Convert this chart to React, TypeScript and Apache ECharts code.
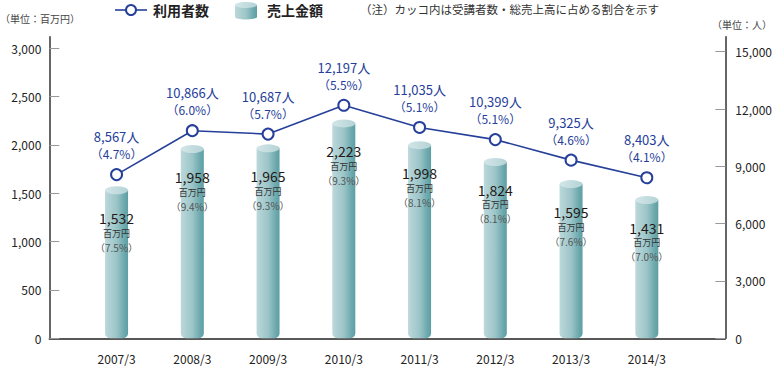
import React, { useEffect, useRef } from "react";
import * as echarts from "echarts";

const categories = ["2007/3", "2008/3", "2009/3", "2010/3", "2011/3", "2012/3", "2013/3", "2014/3"];
const sales = [1532, 1958, 1965, 2223, 1998, 1824, 1595, 1431];
const salesPct = ["7.5", "9.4", "9.3", "9.3", "8.1", "8.1", "7.6", "7.0"];
const users = [8567, 10866, 10687, 12197, 11035, 10399, 9325, 8403];
const usersPct = ["4.7", "6.0", "5.7", "5.5", "5.1", "5.1", "4.6", "4.1"];
const leftTicks = [0, 500, 1000, 1500, 2000, 2500, 3000];
const rightTicks = [0, 3000, 6000, 9000, 12000, 15000];

const FONT = "'Noto Sans CJK JP', 'Noto Sans', sans-serif";
const BLUE = "#26409a";
const fmt = (v: number) => v.toLocaleString("en-US");

export default function App() {
  const ref = useRef<HTMLDivElement>(null);
  useEffect(() => {
    document.body.style.margin = "0";
    if (!ref.current) return;
    const chart = echarts.init(ref.current, null, { renderer: "svg" });
    const barGrad = new echarts.graphic.LinearGradient(0, 0, 1, 0, [
      { offset: 0, color: "#bcd8db" },
      { offset: 0.5, color: "#9cc5c8" },
      { offset: 0.85, color: "#6aa8ad" },
      { offset: 1, color: "#5e9ea3" },
    ]);
    const topGrad = new echarts.graphic.LinearGradient(0, 0, 1, 0, [
      { offset: 0, color: "#d3e6e8" },
      { offset: 1, color: "#b4d3d6" },
    ]);
    const idx = categories.map((_, i) => i);
    chart.setOption({
      animation: false,
      textStyle: { fontFamily: FONT },
      grid: { left: 49.3, right: 48.3, top: 36.7, bottom: 33.7, containLabel: false },
      xAxis: {
        type: "value",
        min: -0.888,
        max: 8.037,
        splitLine: { show: false },
        axisTick: { show: false },
        axisLine: { show: true, onZero: false, lineStyle: { color: "#222", width: 1.5 } },
        axisLabel: {
          customValues: idx,
          formatter: (v: number) => categories[Math.round(v)] ?? "",
          margin: 14,
          fontSize: 12,
          color: "#222",
          fontFamily: FONT,
        },
      },
      yAxis: [
        {
          type: "value",
          min: 0,
          max: 3120,
          position: "left",
          splitLine: { show: false },
          axisLine: { show: true, onZero: false, lineStyle: { color: "#333", width: 1.5 } },
          axisTick: { show: true, inside: true, length: 10, customValues: leftTicks, lineStyle: { color: "#999" } },
          axisLabel: {
            customValues: leftTicks,
            formatter: (v: number) => fmt(v),
            fontSize: 12,
            color: "#222",
            margin: 8,
            fontFamily: FONT,
          },
        },
        {
          type: "value",
          min: 0,
          max: 15785,
          position: "right",
          splitLine: { show: false },
          axisLine: { show: true, onZero: false, lineStyle: { color: "#333", width: 1.5 } },
          axisTick: { show: true, inside: true, length: 10, customValues: rightTicks, lineStyle: { color: "#999" } },
          axisLabel: {
            customValues: rightTicks,
            formatter: (v: number) => fmt(v),
            fontSize: 12,
            color: "#222",
            margin: 10,
            fontFamily: FONT,
          },
        },
      ],
      series: [
        {
          type: "bar",
          name: "売上金額",
          xAxisIndex: 0,
          yAxisIndex: 0,
          barWidth: 23,
          data: sales.map((v, i) => [i, v]),
          itemStyle: { color: barGrad, borderRadius: [0, 0, 5, 5] },
          z: 2,
          label: {
            show: true,
            position: "insideTop",
            distance: 20,
            formatter: (p: any) =>
              `{a|${fmt(sales[p.dataIndex])}}\n{b|百万円}\n{c|（${salesPct[p.dataIndex]}%）}`,
            rich: {
              a: { fontSize: 14, color: "#231815", lineHeight: 16, fontFamily: FONT, align: "center" },
              b: { fontSize: 9, color: "#333", lineHeight: 14, fontFamily: FONT, align: "center" },
              c: { fontSize: 10, color: "#555", lineHeight: 14, fontFamily: FONT, align: "center" },
            },
          },
        },
        {
          type: "scatter",
          xAxisIndex: 0,
          yAxisIndex: 0,
          symbol: "circle",
          symbolSize: [23, 8],
          data: sales.map((v, i) => [i, v]),
          itemStyle: { color: topGrad, opacity: 1 },
          z: 3,
          silent: true,
        },
        {
          type: "line",
          name: "利用者数",
          xAxisIndex: 0,
          yAxisIndex: 1,
          data: users.map((v, i) => [i, v]),
          symbol: "circle",
          symbolSize: 11,
          lineStyle: { color: BLUE, width: 1.6 },
          itemStyle: { color: "#fff", borderColor: BLUE, borderWidth: 2 },
          z: 5,
          label: {
            show: true,
            position: "top",
            distance: 6,
            formatter: (p: any) => `{a|${fmt(users[p.dataIndex])}人}\n{b|（${usersPct[p.dataIndex]}%）}`,
            rich: {
              a: { fontSize: 13, color: BLUE, lineHeight: 17, fontFamily: FONT, align: "center" },
              b: { fontSize: 12, color: BLUE, lineHeight: 17, fontFamily: FONT, align: "center" },
            },
          },
        },
      ],
      graphic: [
        {
          type: "text",
          left: 0,
          top: 13,
          style: { text: "（単位：百万円）", fontSize: 10, fill: "#444", fontFamily: FONT },
        },
        {
          type: "text",
          right: 3,
          top: 19,
          style: { text: "（単位：人）", fontSize: 10, fill: "#444", fontFamily: FONT },
        },
        { type: "line", shape: { x1: 115, y1: 10, x2: 147, y2: 10 }, style: { stroke: BLUE, lineWidth: 1.6 } },
        { type: "circle", shape: { cx: 131, cy: 10, r: 5 }, style: { fill: "#fff", stroke: BLUE, lineWidth: 2 } },
        {
          type: "text",
          x: 153,
          y: 10,
          style: { text: "利用者数", fontSize: 14, fontWeight: "bold", fill: "#222", fontFamily: FONT, verticalAlign: "middle" },
        },
        { type: "rect", shape: { x: 235, y: 5, width: 22, height: 12 }, style: { fill: barGrad } },
        { type: "ellipse", shape: { cx: 246, cy: 17, rx: 11, ry: 2.5 }, style: { fill: barGrad } },
        { type: "ellipse", shape: { cx: 246, cy: 5, rx: 11, ry: 3 }, style: { fill: topGrad } },
        {
          type: "text",
          x: 267,
          y: 10,
          style: { text: "売上金額", fontSize: 14, fontWeight: "bold", fill: "#222", fontFamily: FONT, verticalAlign: "middle" },
        },
        {
          type: "text",
          x: 360,
          y: 9,
          style: {
            text: "（注）カッコ内は受講者数・総売上高に占める割合を示す",
            fontSize: 11.5,
            fill: "#333",
            fontFamily: FONT,
            verticalAlign: "middle",
          },
        },
      ],
    });
    return () => chart.dispose();
  }, []);
  return <div ref={ref} style={{ width: 775, height: 372 }} />;
}
